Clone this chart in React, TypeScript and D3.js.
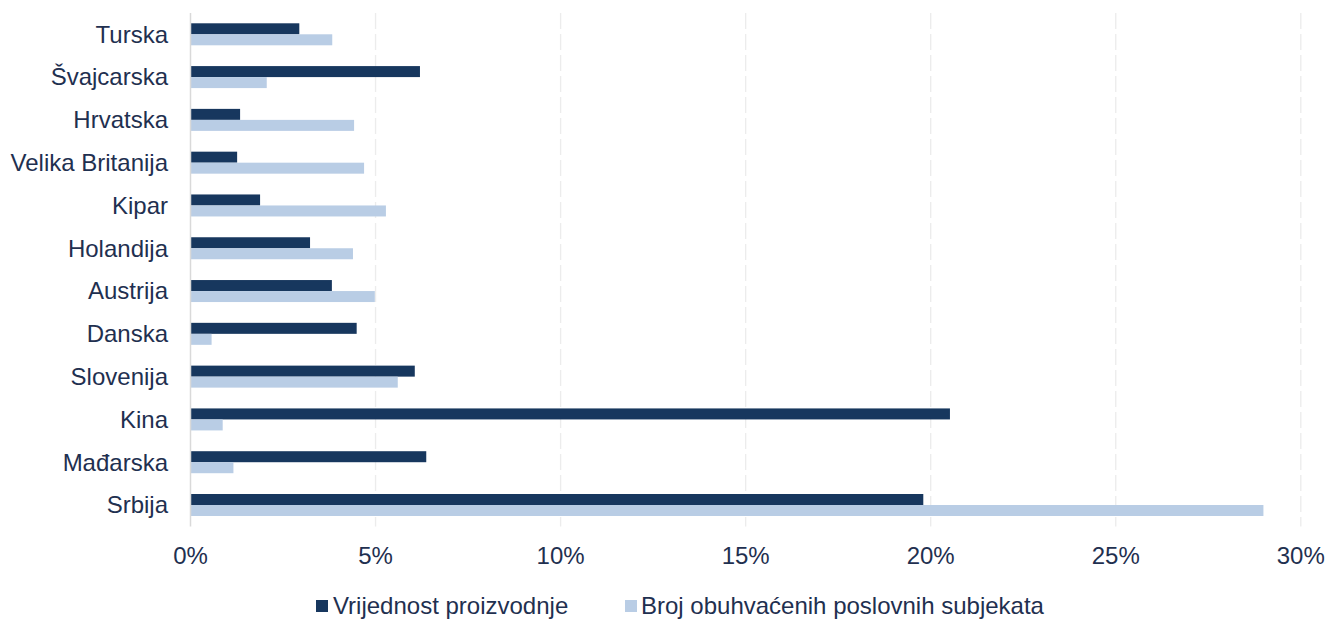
import React from "react";
import * as d3 from "d3";

const categories = ["Turska", "Švajcarska", "Hrvatska", "Velika Britanija", "Kipar", "Holandija", "Austrija", "Danska", "Slovenija", "Kina", "Mađarska", "Srbija"];
const vrijednost = [2.94, 6.2, 1.34, 1.26, 1.88, 3.23, 3.82, 4.49, 6.06, 20.52, 6.37, 19.8];
const broj = [3.83, 2.06, 4.42, 4.69, 5.28, 4.39, 4.98, 0.57, 5.6, 0.87, 1.16, 28.99];
const xTicks = [0, 5, 10, 15, 20, 25, 30];
const seriesNames = ["Vrijednost proizvodnje", "Broj obuhvaćenih poslovnih subjekata"];

const W = 1326, H = 619;
const DARK = "#17375e";
const LIGHT = "#b9cde5";
const TEXT = "#1f3050";
const FONT = "'Liberation Sans', Arial, sans-serif";

export default function App() {
  const x = d3.scaleLinear().domain([0, 30]).range([190.5, 1300.8]);
  const y = d3.scaleBand<string>().domain(categories).range([12.9, 526.4]).paddingInner(0).paddingOuter(0);
  const barH = 11;
  const center = (c: string) => (y(c) as number) + y.bandwidth() / 2;
  const fs = 24;
  return (
    <svg width={W} height={H} style={{ position: "absolute", left: 0, top: 0, display: "block", background: "#fff" }}>
      {xTicks.map((t) => (
        t === 0 ? null : (
          <line key={"g" + t} x1={x(t)} x2={x(t)} y1={12.9} y2={526.4} stroke="#ececec" strokeWidth={1.3} strokeDasharray="16,5" />
        )
      ))}
      {categories.map((c, i) => (
        <g key={c}>
          <rect x={x(0)} y={center(c) - barH} width={x(vrijednost[i]) - x(0)} height={barH} fill={DARK} />
          <rect x={x(0)} y={center(c)} width={x(broj[i]) - x(0)} height={barH} fill={LIGHT} />
          <text x={168} y={center(c)} dy="0.35em" textAnchor="end" fontFamily={FONT} fontSize={fs} fill={TEXT}>{c}</text>
        </g>
      ))}
      <line x1={x(0)} x2={x(0)} y1={12.9} y2={526.4} stroke="#d9d9d9" strokeWidth={1.5} />
      {xTicks.map((t) => (
        <text key={"t" + t} x={x(t)} y={556} dy="0.35em" textAnchor="middle" fontFamily={FONT} fontSize={fs} fill={TEXT}>{t + "%"}</text>
      ))}
      <rect x={316} y={600} width={12} height={12} fill={DARK} />
      <text x={333} y={606} dy="0.35em" fontFamily={FONT} fontSize={fs} fill={TEXT}>{seriesNames[0]}</text>
      <rect x={625} y={600} width={12} height={12} fill={LIGHT} />
      <text x={641} y={606} dy="0.35em" fontFamily={FONT} fontSize={fs} fill={TEXT}>{seriesNames[1]}</text>
    </svg>
  );
}
